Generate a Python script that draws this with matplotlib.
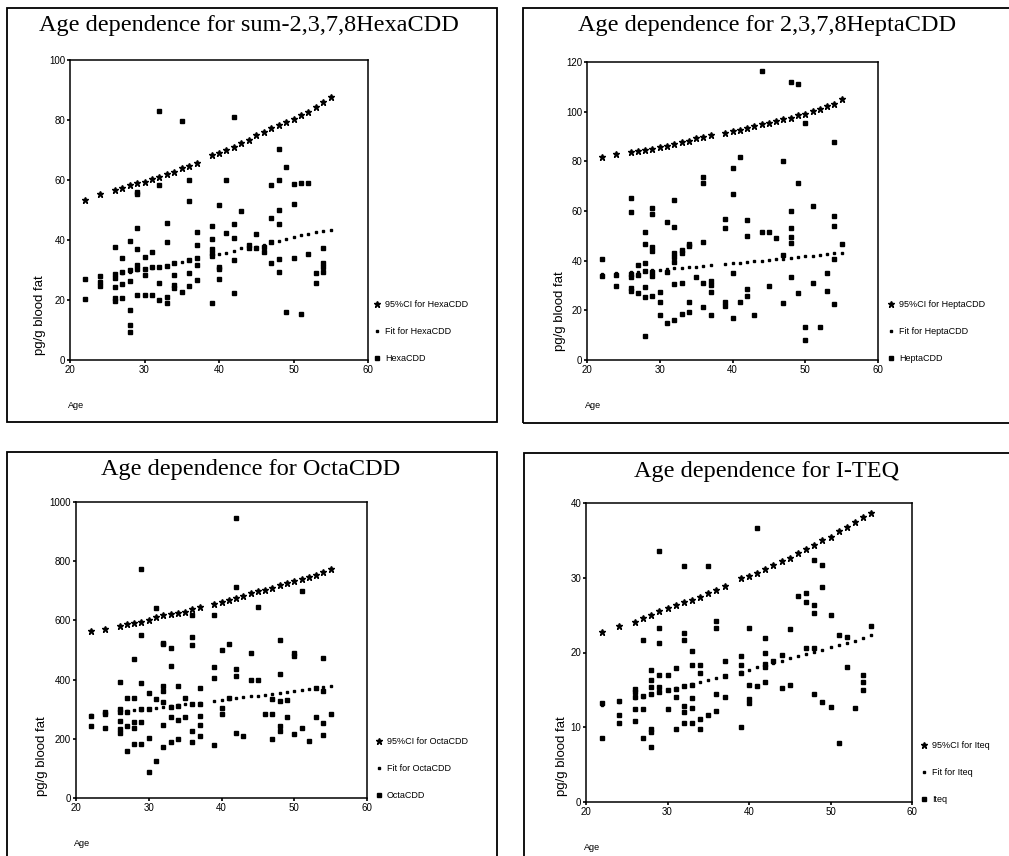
import matplotlib
matplotlib.use("Agg")
import matplotlib.pyplot as plt
from matplotlib.patches import Rectangle

W, H = 1009, 856

# ages for which the fit and upper 95% CI are drawn
fit_age = [22, 24, 26, 27, 28, 29, 30, 31, 32, 33, 34, 35, 36, 37, 39, 40,
           41, 42, 43, 44, 45, 46, 47, 48, 49, 50, 51, 52, 53, 54, 55]

# HexaCDD
hexa_ci = [53.3, 55.2, 56.7, 57.4, 58.3, 59.0, 59.4, 60.2, 61.1, 61.9, 62.8, 63.9, 64.8, 65.8, 68.2, 69.1,
           70.0, 71.1, 72.2, 73.3, 75.0, 76.1, 77.2, 78.3, 79.4, 80.3, 81.7, 82.8, 84.4, 85.9, 87.6]
hexa_fit = [26.9, 27.8, 28.3, 29.1, 29.4, 30.0, 30.2, 30.8, 31.1, 31.4, 32.2, 32.8, 33.3, 33.9, 35.0, 35.3,
            35.8, 36.4, 37.2, 37.4, 37.6, 38.2, 39.2, 39.8, 40.3, 40.9, 41.7, 42.1, 42.6, 43.0, 43.3]
hexa = {22: [26.9, 20.2], 24: [28.0, 26.0, 24.7], 26: [37.8, 28.7, 27.4, 24.4, 20.6, 19.7],
        27: [33.9, 29.4, 25.2, 20.8], 28: [39.7, 30.0, 26.3, 16.7, 11.7, 9.4],
        29: [56.1, 55.2, 43.9, 37.0, 31.7, 30.2, 21.7], 30: [34.4, 30.2, 28.3, 21.7],
        31: [35.9, 31.1, 21.7], 32: [83.1, 58.3, 31.1, 25.8, 20.0], 33: [45.6, 39.2, 31.4, 21.1, 18.9],
        34: [32.4, 28.3, 25.0, 23.9], 35: [79.8, 22.6], 36: [60.0, 53.0, 33.3, 28.9, 24.8],
        37: [42.6, 38.3, 33.9, 31.7, 26.7], 39: [44.7, 40.2, 36.9, 35.6, 34.7, 18.9],
        40: [51.7, 31.1, 30.3, 27.0], 41: [60.0, 42.2], 42: [80.9, 45.2, 40.6, 33.3, 22.2],
        43: [49.8], 44: [38.3, 37.2], 45: [42.0, 37.2], 46: [37.8, 36.1], 47: [58.3, 47.2, 39.4, 32.2],
        48: [70.2, 60.0, 50.0, 45.3, 33.6, 29.4], 49: [64.4, 15.9], 50: [58.6, 52.0, 33.9],
        51: [58.9, 15.3], 52: [59.1, 35.2], 53: [28.9, 25.6], 54: [37.2, 32.4, 31.1, 29.4]}

# HeptaCDD
hepta_ci = [81.8, 82.9, 83.8, 84.1, 84.5, 85.1, 85.8, 86.2, 86.9, 87.6, 88.2, 89.2, 89.8, 90.5, 91.6, 92.2,
            92.8, 93.6, 94.3, 94.9, 95.6, 96.3, 96.9, 97.6, 98.6, 99.2, 100.2, 101.2, 102.2, 103.2, 105.0]
hepta_fit = [34.5, 35.0, 35.4, 35.6, 35.9, 36.1, 36.4, 36.6, 36.9, 37.1, 37.4, 37.6, 37.9, 38.1, 38.6, 38.9,
             39.2, 39.4, 39.7, 40.0, 40.3, 40.5, 40.8, 41.1, 41.4, 41.7, 42.0, 42.3, 42.6, 42.9, 43.2]
hepta = {22: [40.5, 33.9], 24: [34.2, 29.9], 26: [65.3, 59.4, 34.6, 33.5, 28.8, 27.8],
         27: [38.2, 34.2, 27.1], 28: [51.4, 46.9, 38.9, 35.8, 29.5, 25.2, 9.8],
         29: [61.4, 58.7, 45.6, 44.0, 35.5, 33.9, 25.7], 30: [27.5, 23.5, 18.1], 31: [55.4, 35.5, 14.7],
         32: [64.6, 53.6, 42.9, 41.6, 39.6, 30.8, 16.1], 33: [44.2, 42.9, 31.1, 18.5],
         34: [46.9, 45.9, 23.5, 19.2], 35: [33.5], 36: [73.7, 71.1, 47.6, 31.1, 21.5],
         37: [31.8, 30.4, 27.2, 18.1], 39: [56.7, 53.2, 23.5, 21.7], 40: [77.4, 67.0, 35.1, 17.0],
         41: [81.8, 23.5], 42: [56.3, 49.9, 28.6, 25.7], 43: [18.1], 44: [116.3, 51.4], 45: [51.4, 29.9],
         46: [49.2], 47: [80.0, 42.2, 23.1], 48: [112.0, 59.9, 53.0, 49.6, 47.2, 33.3],
         49: [111.3, 71.3, 26.8], 50: [95.6, 13.4, 8.0], 51: [61.9, 31.1], 52: [13.1],
         53: [35.1, 27.8], 54: [87.8, 58.1, 54.0, 40.5, 22.5], 55: [46.9]}

# OctaCDD
octa_ci = [564, 572, 581, 587, 590, 594, 600, 611, 617, 620, 626, 629, 639, 645, 657, 663,
           669, 676, 682, 691, 699, 704, 710, 718, 725, 733, 740, 747, 755, 763, 772]
octa_fit = [280, 285, 290, 293, 296, 298, 301, 304, 307, 310, 313, 316, 319, 322, 328, 331,
            334, 337, 340, 343, 346, 349, 352, 356, 359, 362, 365, 368, 372, 375, 379]
octa = {22: [278, 242], 24: [289, 283, 235], 26: [392, 300, 292, 261, 233, 221],
        27: [337, 292, 244, 160], 28: [469, 337, 257, 236, 184], 29: [774, 551, 387, 302, 257, 184],
        30: [356, 302, 204, 89], 31: [643, 334, 124], 32: [525, 519, 379, 362, 325, 246, 171],
        33: [506, 446, 308, 272, 188], 34: [379, 311, 264, 199], 35: [337, 272],
        36: [617, 545, 517, 317, 227, 188], 37: [370, 319, 278, 246, 210], 39: [617, 443, 407, 179],
        40: [500, 303, 283], 41: [519, 337], 42: [946, 713, 435, 412, 218], 43: [208],
        44: [491, 398], 45: [645, 398], 46: [283], 47: [334, 283, 199],
        48: [533, 418, 328, 242, 225], 49: [331, 274], 50: [491, 480, 216], 51: [701, 235],
        52: [193], 53: [373, 272], 54: [474, 362, 252, 212], 55: [283]}

# I-TEQ
iteq_ci = [22.8, 23.6, 24.1, 24.6, 25.0, 25.5, 26.0, 26.4, 26.7, 27.0, 27.4, 27.9, 28.4, 28.9, 29.9, 30.3,
           30.7, 31.2, 31.7, 32.3, 32.7, 33.3, 33.8, 34.4, 35.0, 35.5, 36.2, 36.8, 37.4, 38.1, 38.7]
iteq_fit = [13.0, 13.4, 13.9, 14.1, 14.4, 14.7, 15.0, 15.2, 15.5, 15.8, 16.0, 16.3, 16.6, 16.9, 17.4, 17.7,
            18.0, 18.3, 18.6, 18.9, 19.2, 19.5, 19.8, 20.1, 20.4, 20.7, 21.0, 21.3, 21.6, 21.9, 22.3]
iteq = {22: [13.2, 8.6], 24: [13.5, 11.6, 10.6], 26: [15.1, 14.7, 14.1, 12.4, 10.9],
        27: [21.7, 14.2, 12.4, 8.6], 28: [17.7, 16.3, 15.4, 14.5, 9.7, 9.4, 7.4],
        29: [33.6, 23.3, 21.3, 17.0, 15.4, 14.7], 30: [17.0, 15.0, 12.4], 31: [17.9, 15.1, 14.1, 9.7],
        32: [31.6, 22.6, 21.7, 15.5, 12.9, 12.1, 10.6], 33: [20.2, 18.3, 15.7, 13.9, 12.6, 10.6],
        34: [18.3, 17.2, 11.1, 9.7], 35: [31.6, 11.7], 36: [24.2, 23.3, 14.5, 12.2],
        37: [18.8, 16.8, 14.1], 39: [19.5, 18.3, 17.2, 10.1], 40: [23.3, 15.7, 13.8, 13.3],
        41: [36.7, 15.5], 42: [22.0, 19.9, 18.5, 18.1, 16.1], 43: [18.8], 44: [19.7, 15.2],
        45: [23.2, 15.6], 46: [27.6], 47: [28.0, 26.8, 20.6], 48: [32.4, 26.4, 25.3, 20.6, 14.4],
        49: [31.7, 28.7, 13.4], 50: [25.0, 12.7], 51: [22.3, 7.9], 52: [22.1, 18.0], 53: [12.6],
        54: [17.0, 16.0, 15.0], 55: [23.6]}

panels = [
    dict(title="Age dependence for sum-2,3,7,8HexaCDD", name="HexaCDD", ci=hexa_ci, fit=hexa_fit, pts=hexa,
         ymax=100, yticks=[0, 20, 40, 60, 80, 100], frame=(7, 8, 497, 422), ax=(70, 60, 368, 360),
         title_xy=(249, 25), ylab_xy=(40, 315), leg_xy=(374, 363)),
    dict(title="Age dependence for 2,3,7,8HeptaCDD", name="HeptaCDD", ci=hepta_ci, fit=hepta_fit, pts=hepta,
         ymax=120, yticks=[0, 20, 40, 60, 80, 100, 120], frame=(523, 8, 1030, 423), ax=(587, 62, 878, 360),
         title_xy=(767, 25), ylab_xy=(560, 311), leg_xy=(888, 363)),
    dict(title="Age dependence for OctaCDD", name="OctaCDD", ci=octa_ci, fit=octa_fit, pts=octa,
         ymax=1000, yticks=[0, 200, 400, 600, 800, 1000], frame=(7, 452, 497, 880), ax=(76, 502, 367, 798),
         title_xy=(251, 470), ylab_xy=(42, 756), leg_xy=(376, 800)),
    dict(title="Age dependence for I-TEQ", name="Iteq", ci=iteq_ci, fit=iteq_fit, pts=iteq,
         ymax=40, yticks=[0, 10, 20, 30, 40], frame=(524, 453, 1030, 880), ax=(586, 503, 912, 802),
         title_xy=(767, 472), ylab_xy=(562, 756), leg_xy=(921, 804)),
]

fig = plt.figure(figsize=(W / 100, H / 100), dpi=100)
fig.patch.set_facecolor("white")

def fx(x):
    return x / W

def fy(y):
    return 1 - y / H

for p in panels:
    x0, y0, x1, y1 = p["frame"]
    fig.add_artist(Rectangle((fx(x0), fy(y1)), fx(x1) - fx(x0), fy(y0) - fy(y1),
                             transform=fig.transFigure, fill=False, edgecolor="black", linewidth=1.3))
    fig.text(fx(p["title_xy"][0]), fy(p["title_xy"][1]), p["title"], ha="center", va="center",
             fontsize=17.5, family="Liberation Serif")

    l, t, r, b = p["ax"]
    ax = fig.add_axes([fx(l), fy(b), fx(r) - fx(l), fy(t) - fy(b)])
    ages, vals = [], []
    for a, vs in p["pts"].items():
        for v in vs:
            ages.append(a)
            vals.append(v)
    h_ci, = ax.plot(fit_age, p["ci"], linestyle="none", marker="*", markersize=4.5, color="black",
                    label="95%CI for " + p["name"])
    h_fit, = ax.plot(fit_age, p["fit"], linestyle="none", marker="s", markersize=2, color="black",
                     label="Fit for " + p["name"])
    h_pts, = ax.plot(ages, vals, linestyle="none", marker="s", markersize=2.4, color="black",
                     label=p["name"])
    ax.set_xlim(20, 60)
    ax.set_ylim(0, p["ymax"])
    ax.set_xticks([20, 30, 40, 50, 60])
    ax.set_yticks(p["yticks"])
    ax.tick_params(direction="out", length=2, width=1.2, labelsize=7, pad=1.5)
    for lab in ax.get_xticklabels() + ax.get_yticklabels():
        lab.set_family("Liberation Sans")
    for s in ax.spines.values():
        s.set_linewidth(1.1)

    fig.text(fx(p["ylab_xy"][0]), fy(p["ylab_xy"][1]), "pg/g blood fat", rotation=90,
             ha="center", va="center", fontsize=9.5, family="Liberation Sans")
    fig.text(fx(l - 2), fy(b + 46), "Age", ha="left", va="center", fontsize=6.5, family="Liberation Sans")

    ax.legend(handles=[h_ci, h_fit, h_pts], loc="lower left",
              bbox_to_anchor=(fx(p["leg_xy"][0]), fy(p["leg_xy"][1])), bbox_transform=fig.transFigure,
              frameon=False, fontsize=6.5, labelspacing=2.0, handlelength=0.6, handletextpad=0.6,
              borderpad=0, borderaxespad=0, prop={"family": "Liberation Sans", "size": 6.5})

fig.savefig("out.png", dpi=100)
